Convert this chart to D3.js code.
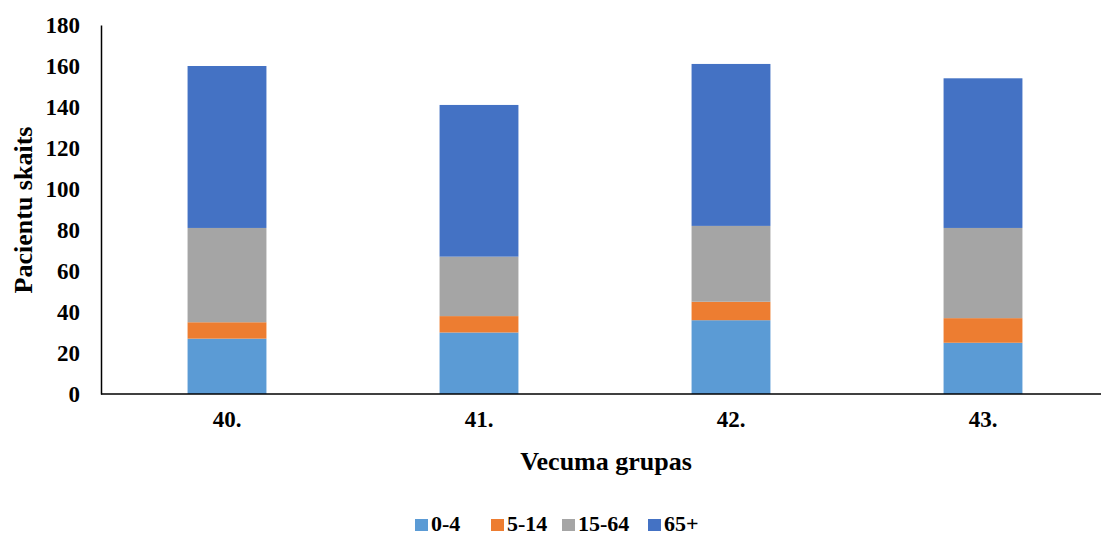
<!DOCTYPE html>
<html><head><meta charset="utf-8">
<script src="https://cdn.jsdelivr.net/npm/d3@7"></script>
<style>body{margin:0;background:#fff}svg text{font-family:"Liberation Serif","Times New Roman",serif;font-weight:bold;fill:#000}</style>
</head><body>
<svg id="c" width="1101" height="535"></svg>
<script>
const categories = ["40.", "41.", "42.", "43."];
const seriesNames = ["0-4", "5-14", "15-64", "65+"];
const s0_4 = [27, 30, 36, 25];
const s5_14 = [8, 8, 9, 12];
const s15_64 = [46, 29, 37, 44];
const s65 = [79, 74, 79, 73];
const yTicks = [0, 20, 40, 60, 80, 100, 120, 140, 160, 180];
const colors = ["#5B9BD5", "#ED7D31", "#A5A5A5", "#4472C4"];

const svg = d3.select("#c");
const x0 = 101, x1 = 1109, yTop = 25, yBot = 394;
const x = d3.scaleBand().domain(categories).range([x0, x1]).paddingInner(0.687).paddingOuter(0.3435);
const y = d3.scaleLinear().domain([0, 180]).range([yBot, yTop]);

const rows = categories.map((c, i) => ({cat: c, "0-4": s0_4[i], "5-14": s5_14[i], "15-64": s15_64[i], "65+": s65[i]}));
const stack = d3.stack().keys(seriesNames)(rows);

svg.append("g").selectAll("g").data(stack).join("g")
  .attr("fill", (d, i) => colors[i])
  .selectAll("rect").data(d => d).join("rect")
  .attr("x", d => x(d.data.cat))
  .attr("width", x.bandwidth())
  .attr("y", d => y(d[1]))
  .attr("height", d => y(d[0]) - y(d[1]));

// y axis
const ya = svg.append("g").attr("transform", `translate(${x0},0)`)
  .call(d3.axisLeft(y).tickValues(yTicks).tickSize(0).tickPadding(21));
ya.select(".domain").attr("stroke", "#000").attr("stroke-width", 1.5);
ya.selectAll("text").style("font-size", "23px").style("font-family", "Liberation Serif").style("font-weight", "bold").attr("dy", "0.34em");

// x axis
const xa = svg.append("g").attr("transform", `translate(0,${yBot})`)
  .call(d3.axisBottom(x).tickSize(0).tickPadding(17));
xa.select(".domain").attr("stroke", "#000").attr("stroke-width", 1.5).attr("d", `M${x0},0H${x1}`);
xa.selectAll("text").style("font-size", "23px").style("font-family", "Liberation Serif").style("font-weight", "bold");

// axis titles
svg.append("text").attr("transform", "translate(32,210) rotate(-90)")
  .attr("text-anchor", "middle").style("font-size", "26px").text("Pacientu skaits");
svg.append("text").attr("x", 606).attr("y", 470)
  .attr("text-anchor", "middle").style("font-size", "26px").text("Vecuma grupas");

// legend
const legX = [415, 491, 562, 648];
const lg = svg.append("g").selectAll("g").data(seriesNames).join("g")
  .attr("transform", (d, i) => `translate(${legX[i]},519)`);
lg.append("rect").attr("width", 13).attr("height", 12).attr("fill", (d, i) => colors[i]);
lg.append("text").attr("x", 16).attr("y", 12).style("font-size", "22px").text(d => d);
</script>
</body></html>
